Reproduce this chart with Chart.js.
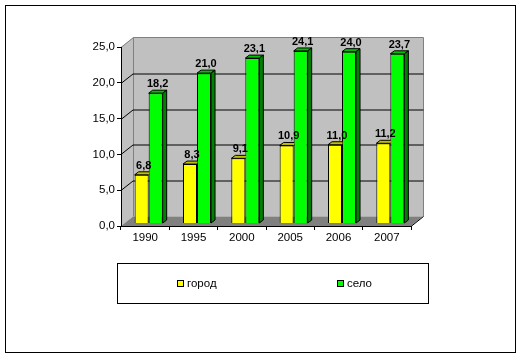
<!DOCTYPE html>
<html><head><meta charset="utf-8">
<script src="https://cdn.jsdelivr.net/npm/chart.js@4.4.0/dist/chart.umd.min.js"></script>
<style>html,body{margin:0;padding:0;background:#fff}canvas{display:block}</style>
</head><body>
<canvas id="c" width="528" height="359"></canvas>
<script>
const categories = ['1990','1995','2000','2005','2006','2007'];
const cityValues = [6.8, 8.3, 9.1, 10.9, 11.0, 11.2];
const villageValues = [18.2, 21.0, 23.1, 24.1, 24.0, 23.7];
const seriesNames = ['город','село'];
const yTicks = [0,5,10,15,20,25];

const FONT = '"Liberation Sans", Arial, sans-serif';
const WALL_DX = 12, WALL_DY = -9.5;
const BAR_OX = 3.5, BAR_OY = -2.5;
const BAR_DX = 4, BAR_DY = -3;
const fmt = v => v.toFixed(1).replace('.', ',');

const threeD = {
  id: 'threeD',
  beforeDraw(chart) {
    const ctx = chart.ctx, a = chart.chartArea, ys = chart.scales.y;
    const L = a.left, R = a.right, T = a.top, B = a.bottom;
    ctx.save();
    ctx.fillStyle = '#C0C0C0';
    // side wall
    ctx.beginPath();
    ctx.moveTo(L, T); ctx.lineTo(L + WALL_DX, T + WALL_DY);
    ctx.lineTo(L + WALL_DX, B + WALL_DY); ctx.lineTo(L, B); ctx.closePath(); ctx.fill();
    // back wall
    ctx.fillRect(L + WALL_DX, T + WALL_DY, R - L, B - T);
    // floor
    ctx.fillStyle = '#808080';
    ctx.beginPath();
    ctx.moveTo(L, B); ctx.lineTo(L + WALL_DX, B + WALL_DY);
    ctx.lineTo(R + WALL_DX, B + WALL_DY); ctx.lineTo(R, B); ctx.closePath(); ctx.fill();
    // wall borders
    ctx.strokeStyle = '#808080'; ctx.lineWidth = 1;
    ctx.beginPath();
    ctx.moveTo(L, T + 0.5); ctx.lineTo(L + WALL_DX + 0.5, T + WALL_DY);
    ctx.lineTo(R + WALL_DX + 0.5, T + WALL_DY);
    ctx.lineTo(R + WALL_DX + 0.5, B + WALL_DY);
    ctx.moveTo(L + WALL_DX + 0.5, T + WALL_DY); ctx.lineTo(L + WALL_DX + 0.5, B + WALL_DY);
    ctx.stroke();
    // gridlines
    ctx.strokeStyle = '#000';
    yTicks.forEach(v => {
      if (v === 0 || v === 25) return;
      const y = Math.round(ys.getPixelForValue(v)) + 0.5;
      ctx.beginPath();
      ctx.moveTo(L, y); ctx.lineTo(L + WALL_DX, y + WALL_DY);
      ctx.lineTo(R + WALL_DX + 0.5, y + WALL_DY);
      ctx.stroke();
    });
    // right floor edge
    ctx.beginPath();
    ctx.moveTo(R, B + 0.5); ctx.lineTo(R + WALL_DX + 0.5, B + WALL_DY);
    ctx.stroke();
    ctx.restore();
  },
  beforeDatasetsDraw(chart) {
    chart.ctx.save();
    chart.ctx.translate(BAR_OX, BAR_OY);
  },
  afterDatasetsDraw(chart) {
    const ctx = chart.ctx;
    ctx.restore();
    ctx.save();
    ctx.translate(BAR_OX, BAR_OY);
    ctx.lineWidth = 1; ctx.strokeStyle = '#000';
    const m0 = chart.getDatasetMeta(0).data, m1 = chart.getDatasetMeta(1).data;
    const face = (pts, fill) => {
      ctx.beginPath();
      ctx.moveTo(pts[0][0], pts[0][1]);
      for (let i = 1; i < pts.length; i++) ctx.lineTo(pts[i][0], pts[i][1]);
      ctx.closePath();
      ctx.fillStyle = fill; ctx.fill(); ctx.stroke();
    };
    categories.forEach((c, i) => {
      const b0 = m0[i].getProps(['x','y','base','width'], true);
      const b1 = m1[i].getProps(['x','y','base','width'], true);
      // yellow top (clipped at green front)
      let l = b0.x - b0.width / 2, r = b0.x + b0.width / 2, t = b0.y;
      ctx.save();
      ctx.beginPath(); ctx.rect(0, 0, r + 0.5, 400); ctx.clip();
      face([[l, t], [r, t], [r + BAR_DX, t + BAR_DY], [l + BAR_DX, t + BAR_DY]], '#BFBF00');
      ctx.restore();
      // green top and side
      l = b1.x - b1.width / 2; r = b1.x + b1.width / 2; t = b1.y;
      face([[l, t], [r, t], [r + BAR_DX, t + BAR_DY], [l + BAR_DX, t + BAR_DY]], '#00C000');
      face([[r, t], [r + BAR_DX, t + BAR_DY], [r + BAR_DX, b1.base + BAR_DY], [r, b1.base]], '#008000');
    });
    // value labels
    ctx.fillStyle = '#000';
    ctx.font = 'bold 11px ' + FONT;
    ctx.textAlign = 'center'; ctx.textBaseline = 'middle';
    [[m0, cityValues], [m1, villageValues]].forEach(([m, vals]) => {
      m.forEach((el, i) => {
        const p = el.getProps(['x','y'], true);
        ctx.fillText(fmt(vals[i]), p.x + BAR_DX / 2, p.y - 9);
      });
    });
    ctx.restore();
  },
  afterDraw(chart) {
    const ctx = chart.ctx;
    ctx.save();
    ctx.strokeStyle = '#000'; ctx.lineWidth = 1;
    ctx.strokeRect(5.5, 5.5, 510, 347);
    // legend
    ctx.strokeRect(117.5, 263.5, 311, 40);
    const items = [
      {x: 177, label: seriesNames[0], color: chart.data.datasets[0].backgroundColor},
      {x: 337, label: seriesNames[1], color: chart.data.datasets[1].backgroundColor}
    ];
    ctx.font = '11.5px ' + FONT;
    ctx.textBaseline = 'middle'; ctx.textAlign = 'left';
    items.forEach(it => {
      ctx.fillStyle = it.color;
      ctx.fillRect(it.x + 0.5, 280.5, 6, 6);
      ctx.strokeRect(it.x + 0.5, 280.5, 6, 6);
      ctx.fillStyle = '#000';
      ctx.fillText(it.label, it.x + 10, 284);
    });
    ctx.restore();
  }
};

new Chart(document.getElementById('c'), {
  type: 'bar',
  data: {
    labels: categories,
    datasets: [
      {label: seriesNames[0], data: cityValues, backgroundColor: '#FFFF00', borderColor: '#000', borderWidth: 1},
      {label: seriesNames[1], data: villageValues, backgroundColor: '#00FF00', borderColor: '#000', borderWidth: 1}
    ]
  },
  options: {
    responsive: false,
    animation: false,
    devicePixelRatio: 1,
    layout: {padding: {left: 0, top: 47, right: 117, bottom: 113}},
    plugins: {legend: {display: false}, tooltip: {enabled: false}},
    datasets: {bar: {categoryPercentage: 0.58, barPercentage: 1}},
    scales: {
      x: {
        grid: {drawOnChartArea: false, drawTicks: true, tickLength: 4, tickColor: '#000', offset: true},
        border: {display: true, color: '#000', width: 1},
        ticks: {color: '#000', font: {family: FONT, size: 11.5}, padding: 1, maxRotation: 0},
        afterFit(s) { s.height = 20; }
      },
      y: {
        min: 0, max: 25,
        afterBuildTicks(s) { s.ticks = yTicks.map(v => ({value: v})); },
        grid: {drawOnChartArea: false, drawTicks: true, tickLength: 4, tickColor: '#000'},
        border: {display: true, color: '#000', width: 1},
        ticks: {color: '#000', font: {family: FONT, size: 11.5}, padding: 2, callback: v => fmt(v)},
        afterFit(s) { s.width = 121; }
      }
    }
  },
  plugins: [threeD]
});
</script>
</body></html>
